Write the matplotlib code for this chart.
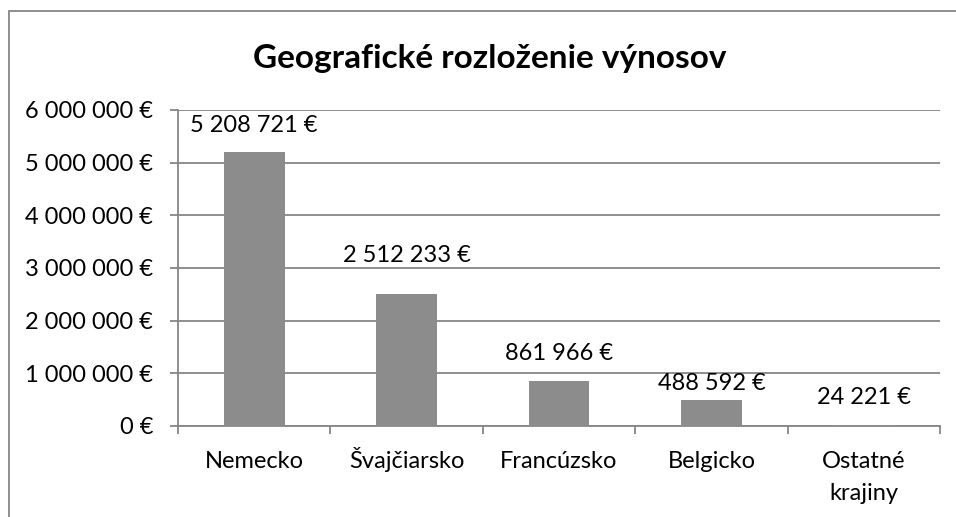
import matplotlib
matplotlib.use("Agg")
import matplotlib.pyplot as plt
from matplotlib.patches import Rectangle
from matplotlib.ticker import FuncFormatter, MultipleLocator
import numpy as np

plt.rcParams['font.family'] = ['Lato', 'DejaVu Sans']

# data
countries = ["Nemecko", "Švajčiarsko", "Francúzsko", "Belgicko", "Ostatné\nkrajiny"]
revenues = [5208721, 2512233, 861966, 488592, 24221]
title = "Geografické rozloženie výnosov"

# data labels were nudged by hand in the original (pixels above bar top)
label_dy = [26, 38, 27, 17, 27]

grid_col = "#868686"
bar_col = "#8c8c8c"
fs = 17


def eur(v, pos=None):
    return f"{int(round(v)):,}".replace(",", " ") + " €"


fig = plt.figure(figsize=(9.56, 5.17), dpi=100)

# chart area border (runs off the right and bottom edge)
fig.patches.append(Rectangle((9 / 956, -0.1), 1.2, 1.1 - 11 / 517,
                             transform=fig.transFigure, fill=False,
                             edgecolor=grid_col, linewidth=1.3))

ax = fig.add_axes([178 / 956, 1 - 426 / 517, 762 / 956, 316 / 517])
x = np.arange(len(countries))
ax.bar(x, revenues, width=0.4, color=bar_col, zorder=3)

ax.set_xlim(-0.5, len(countries) - 0.5)
ax.set_ylim(0, 6000000)
ax.yaxis.set_major_locator(MultipleLocator(1000000))
ax.yaxis.set_major_formatter(FuncFormatter(eur))
ax.yaxis.grid(True, color=grid_col, linewidth=1.3, zorder=0)

# first line as tick label (baseline aligned), further lines added below
ax.set_xticks(x)
ax.set_xticklabels([c.split("\n")[0] for c in countries], va="baseline")
for xi, c in zip(x, countries):
    for k, line in enumerate(c.split("\n")[1:], start=1):
        ax.annotate(line, (xi, 0), xytext=(0, -(42 + 32 * k) * 0.72),
                    textcoords="offset points", ha="center", va="baseline",
                    fontsize=fs, annotation_clip=False)
ax.set_xticks(np.arange(len(countries) + 1) - 0.5, minor=True)
ax.tick_params(axis="x", which="major", length=0, pad=30, labelsize=fs)
ax.tick_params(axis="x", which="minor", length=6, width=1.3, color=grid_col)
ax.tick_params(axis="y", length=6, width=1.3, color=grid_col, pad=12, labelsize=fs)

for s in ["top", "right"]:
    ax.spines[s].set_visible(False)
for s in ["left", "bottom"]:
    ax.spines[s].set_color(grid_col)
    ax.spines[s].set_linewidth(1.3)

for xi, v, dy in zip(x, revenues, label_dy):
    ax.annotate(eur(v), (xi, v), xytext=(0, dy * 0.72), textcoords="offset points",
                ha="center", va="center", fontsize=fs)

fig.text(490 / 956, 1 - 58 / 517, title, ha="center", va="center",
         fontsize=24, fontweight="bold")

fig.savefig("out.png", dpi=100)
